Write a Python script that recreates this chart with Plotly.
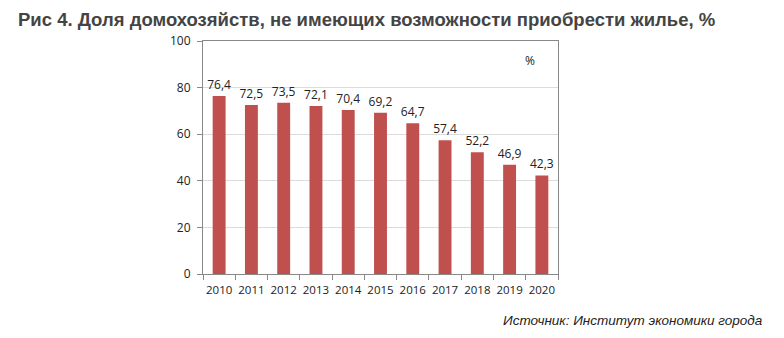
import plotly.graph_objects as go

years = ["2010", "2011", "2012", "2013", "2014", "2015", "2016", "2017", "2018", "2019", "2020"]
values = [76.4, 72.5, 73.5, 72.1, 70.4, 69.2, 64.7, 57.4, 52.2, 46.9, 42.3]
labels = [f"{v:.1f}".replace(".", ",") for v in values]
yticks = [0, 20, 40, 60, 80, 100]

W, H = 784, 338
l, r, t, b = 203, W - 558, 41, H - 274

fig = go.Figure(go.Bar(
    x=years, y=values, text=labels, textposition="outside",
    textfont=dict(family="Open Sans", size=12, color="#222"),
    marker=dict(color="#C0504D", line=dict(width=0)),
    cliponaxis=False, constraintext="none",
))

fig.update_layout(
    width=W, height=H,
    margin=dict(l=l, r=r, t=t, b=b),
    paper_bgcolor="white", plot_bgcolor="white",
    bargap=0.6, showlegend=False,
    uniformtext=dict(minsize=12, mode="show"),
    font=dict(family="Open Sans", size=12, color="#222"),
    xaxis=dict(
        type="category", showline=True, linecolor="#888", linewidth=1,
        ticks="outside", tickson="boundaries", ticklen=5, tickcolor="#888",
        mirror=True, tickangle=0, ticklabelstandoff=5,
        tickfont=dict(size=11.5, color="#222"),
    ),
    yaxis=dict(
        range=[0, 100], tickvals=yticks, showline=True, linecolor="#888", linewidth=1,
        ticks="outside", ticklen=5, tickcolor="#888", mirror=True, ticklabelstandoff=4,
        showgrid=True, gridcolor="#dcdcdc", gridwidth=1,
        tickfont=dict(size=12, color="#222"), zeroline=False,
    ),
    annotations=[
        dict(text="<b>Рис 4. Доля домохозяйств, не имеющих возможности приобрести жилье, %</b>",
             xref="paper", yref="paper", x=(16 - l) / (W - l - r), y=1 + (41 - 20) / (H - t - b),
             xanchor="left", yanchor="middle", showarrow=False,
             font=dict(family="Liberation Sans Narrow, Arial Narrow, sans-serif", size=18.5, color="#444444")),
        dict(text="%", xref="paper", yref="paper",
             x=(530 - l) / (W - l - r), y=1 - (61 - 41) / (H - t - b),
             xanchor="center", yanchor="middle", showarrow=False,
             font=dict(size=12, color="#222")),
        dict(text="<i>Источник: Институт экономики города</i>", xref="paper", yref="paper",
             x=(765 - l) / (W - l - r), y=-(320 - 274) / (H - t - b),
             xanchor="right", yanchor="middle", showarrow=False,
             font=dict(family="Liberation Sans, Arial, sans-serif", size=13.5, color="#222")),
    ],
)

fig.write_html("out.html")
